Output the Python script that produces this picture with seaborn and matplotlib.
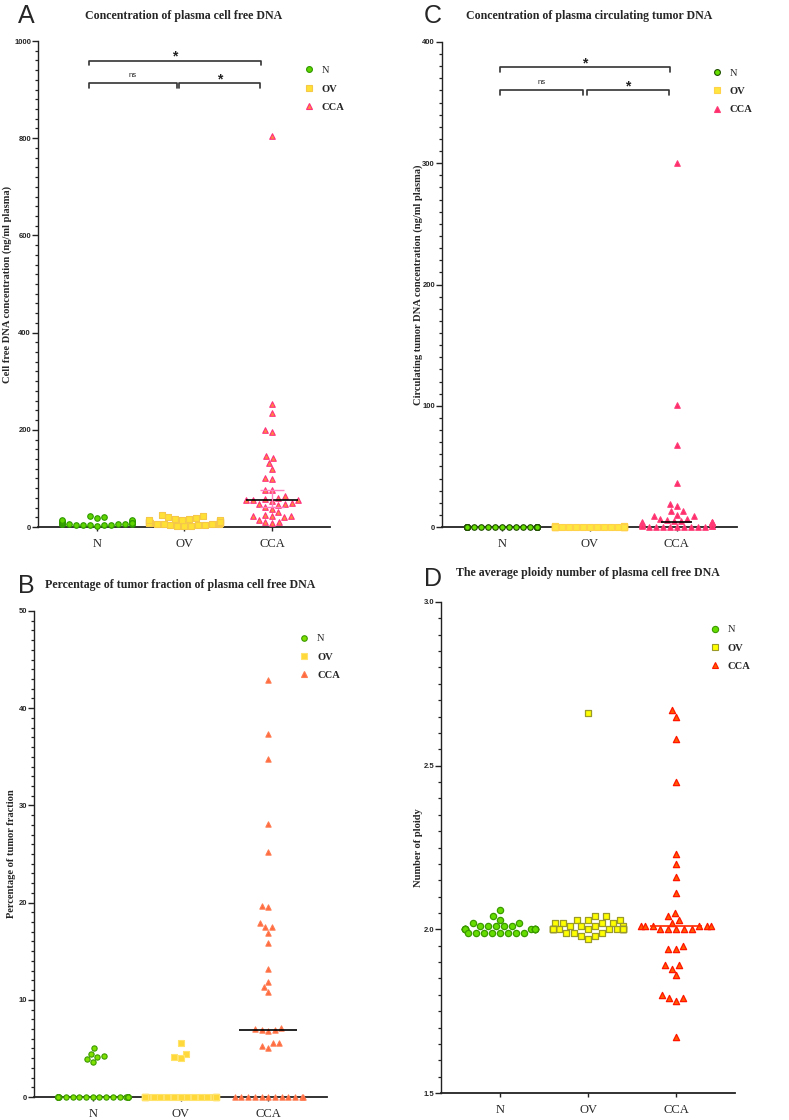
import numpy as np
import matplotlib.pyplot as plt
import seaborn as sns
from matplotlib.lines import Line2D
from matplotlib.ticker import MultipleLocator

groups = ['N', 'OV', 'CCA']

# A - cell free DNA concentration (ng/ml plasma)
cfdna_n = [3, 4, 5, 5, 6, 6, 7, 7, 7, 8, 8, 8, 9, 9, 9, 10, 10, 11, 11, 12,
           13, 14, 15, 18, 20, 22, 6, 5, 8, 9, 4]
cfdna_ov = [2, 3, 4, 5, 6, 7, 8, 8, 9, 9, 10, 10, 11, 11, 12, 12, 13, 14, 15, 16,
            17, 18, 20, 22, 25, 6, 7, 9, 10, 3, 5, 14]
cfdna_cca = [805, 253, 235, 199, 195, 147, 143, 132, 120, 101, 99, 77, 77, 63, 60,
             57, 55, 55, 55, 53, 50, 48, 48, 45, 42, 38, 30, 25, 22, 22, 22, 20, 14,
             10, 10, 8]
cfdna_ticks = [0, 200, 400, 600, 800, 1000]

# C - circulating tumor DNA concentration (ng/ml plasma)
ctdna_n = [0, 0, 0, 0.1, 0, 0.2, 0, 0, 0.1, 0, 0.3, 0, 0, 0.2, 0, 0, 0.1, 0, 0, 0.4,
           0, 0, 0.1, 0, 0.2, 0, 0]
ctdna_ov = [0, 0.2, 0, 0.4, 0, 0.1, 0.6, 0, 0.3, 0, 1.0, 0.2, 0, 0.5, 0, 0.1, 0, 0.8,
            0, 0.3, 0, 0.2, 0, 0.4, 0, 0.1, 0]
ctdna_cca = [300, 101, 68, 36, 19, 17, 13, 13, 10, 9, 9, 7, 7, 6, 5, 5, 4, 4, 4, 3,
             3, 3, 2, 2, 1, 1, 0.5, 0, 0, 0, 0, 0, 0, 0, 0, 0]
ctdna_ticks = [0, 100, 200, 300, 400]

# B - percentage of tumor fraction
tf_n = [5.0, 4.4, 4.2, 4.1, 3.9, 3.6] + [0] * 24
tf_ov = [5.6, 4.4, 4.1, 4.0] + [0] * 26
tf_cca = [42.9, 37.3, 34.8, 28.1, 25.2, 19.6, 19.5, 17.9, 17.5, 17.5, 16.9, 15.8,
          13.2, 11.8, 11.3, 10.8, 7.1, 7.0, 6.85, 6.85, 6.8, 5.6, 5.55, 5.2, 5.07] + [0] * 12
tf_ticks = [0, 10, 20, 30, 40, 50]

# D - average ploidy number
ploidy_n = [2.06, 2.04, 2.03, 2.02, 2.02, 2.01, 2.01, 2.01, 2.01, 2.01] + [2.00] * 12 + [1.99] * 8
ploidy_ov = ([2.66, 2.04, 2.04, 2.03, 2.03, 2.03, 2.02, 2.02, 2.02, 2.02, 2.01, 2.01, 2.01, 2.01]
             + [2.00] * 14 + [1.99, 1.99, 1.99, 1.98, 1.98, 1.97])
ploidy_cca = ([2.67, 2.65, 2.58, 2.45, 2.23, 2.20, 2.16, 2.11, 2.05, 2.04, 2.03, 2.02]
              + [2.01] * 6 + [2.00] * 5
              + [1.95, 1.94, 1.94, 1.89, 1.89, 1.88, 1.86, 1.80, 1.79, 1.79, 1.78, 1.67])
ploidy_ticks = [1.5, 2.0, 2.5, 3.0]

sns.set_style('ticks')
plt.rcParams['font.family'] = ['Liberation Serif', 'DejaVu Serif']
SANS = ['Liberation Sans', 'DejaVu Sans']
AXC = '#222222'

W, H = 789, 1120
fig = plt.figure(figsize=(W / 100, H / 100), dpi=100)


def make_axes(l, t, r, b):
    return fig.add_axes([l / W, 1 - b / H, (r - l) / W, (b - t) / H])


def draw_panel(ax, values, styles, size, lw, xlim, ylim, ticks, minor, fmt):
    for g, vals in zip(groups, values):
        m, fc, ec = styles[g]
        sns.swarmplot(x=[g] * len(vals), y=vals, order=groups, marker=m, color=fc,
                      edgecolor=ec, linewidth=lw, size=size, ax=ax, warn_thresh=1,
                      zorder=3)
    for c in ax.collections:
        c.set_clip_on(False)
    ax.set_xlim(*xlim)
    ax.set_ylim(*ylim)
    ax.set_xticks(range(len(groups)))
    ax.set_xticklabels(groups, fontsize=9)
    ax.set_yticks(ticks)
    ax.set_yticklabels([fmt.format(t) for t in ticks], fontsize=5.5,
                       family=SANS, fontweight='bold')
    ax.yaxis.set_minor_locator(MultipleLocator(minor))
    ax.tick_params(axis='y', which='major', length=4, width=1, pad=1, color=AXC)
    ax.tick_params(axis='y', which='minor', length=2.5, width=0.9, color=AXC)
    ax.tick_params(axis='x', length=3, width=1, pad=5, color=AXC)
    ax.set_xlabel('')
    sns.despine(ax=ax)
    ax.spines['left'].set_linewidth(1.0)
    ax.spines['bottom'].set_linewidth(1.3)
    ax.spines['left'].set_color(AXC)
    ax.spines['bottom'].set_color(AXC)


def set_texts(ax, title, title_y, ylabel, ylabel_x):
    ax.text(0.5, title_y, title, transform=ax.transAxes, ha='center', va='center',
            fontsize=8.6, fontweight='bold')
    ax.set_ylabel(ylabel, fontsize=7.6, fontweight='bold', va='center')
    ax.yaxis.set_label_coords(ylabel_x, 0.5)


def add_legend(ax, styles, ms, anchor):
    handles = [Line2D([], [], ls='none', marker=styles[g][0], markerfacecolor=styles[g][1],
                      markeredgecolor=styles[g][2], markersize=ms, markeredgewidth=0.8)
               for g in groups]
    leg = ax.legend(handles, groups, loc='upper left', bbox_to_anchor=anchor, frameon=False,
                    fontsize=7.6, handlelength=1.0, handletextpad=0.7, labelspacing=0.85,
                    borderpad=0, borderaxespad=0)
    for t, w in zip(leg.get_texts(), ['normal', 'bold', 'bold']):
        t.set_fontweight(w)


def median_line(ax, i, vals, half, color, lw=1.2):
    ax.hlines(np.median(vals), i - half, i + half, color=color, lw=lw, zorder=4)


def bracket(ax, x0, x1, y, drop, label, size, weight, dy):
    ax.plot([x0, x0, x1, x1], [y - drop, y, y, y - drop], color='#333333', lw=1.2,
            clip_on=False, zorder=2)
    ax.text((x0 + x1) / 2, y + dy, label, ha='center', va='baseline', fontsize=size,
            fontweight=weight, family=SANS, color='#222222')


# ---- A ----
axA = make_axes(38, 41, 330, 527)
stA = {'N': ('o', '#5fd400', '#2e9900'), 'OV': ('s', '#ffe135', '#f5c84a'),
       'CCA': ('^', '#ff8a3d', '#ff2e7e')}
draw_panel(axA, [cfdna_n, cfdna_ov, cfdna_cca], stA, 4.0, 0.8, (-0.67, 2.66), (0, 1000),
           cfdna_ticks, 20, '{:d}')
set_texts(axA, 'Concentration of plasma cell free DNA', 1.051,
          'Cell free DNA concentration (ng/ml plasma)', -0.106)
add_legend(axA, stA, 4.2, (0.911, 0.949))
srt = np.sort(cfdna_cca)
n = len(srt)
lo = srt[int(np.floor(n / 2 - 1.96 * np.sqrt(n) / 2)) - 1]
hi = srt[int(np.ceil(1 + n / 2 + 1.96 * np.sqrt(n) / 2)) - 1]
median_line(axA, 2, cfdna_cca, 0.3, 'black')
axA.hlines([lo, hi], 2 - 0.14, 2 + 0.14, color='#ff7fbf', lw=1.0, zorder=4)
axA.vlines(2, lo, hi, color='#ff7fbf', lw=1.0, zorder=4)
bracket(axA, -0.09, 1.87, 959, 9, '*', 10, 'bold', 0)
bracket(axA, -0.09, 0.91, 913, 9, 'ns', 5.5, 'normal', 12)
bracket(axA, 0.94, 1.86, 913, 9, '*', 10, 'bold', 0)

# ---- C ----
axC = make_axes(442, 42, 737, 527)
stC = {'N': ('o', '#66e000', '#1f4d00'), 'OV': ('s', '#ffe640', '#ffd24a'),
       'CCA': ('^', '#ff2d6a', '#ff3c78')}
draw_panel(axC, [ctdna_n, ctdna_ov, ctdna_cca], stC, 4.0, 0.8, (-0.69, 2.69), (0, 400),
           ctdna_ticks, 10, '{:d}')
set_texts(axC, 'Concentration of plasma circulating tumor DNA', 1.054,
          'Circulating tumor DNA concentration (ng/ml plasma)', -0.081)
add_legend(axC, stC, 4.2, (0.915, 0.946))
median_line(axC, 2, ctdna_cca, 0.18, 'black')
bracket(axC, -0.03, 1.92, 379, 3.5, '*', 10, 'bold', 0)
bracket(axC, -0.03, 0.93, 360, 3.5, 'ns', 5.5, 'normal', 5)
bracket(axC, 0.97, 1.91, 360, 3.5, '*', 10, 'bold', 0)

# ---- B ----
axB = make_axes(34, 611, 327, 1097)
stB = {'N': ('o', '#7ee000', '#3b9900'), 'OV': ('s', '#ffd83a', '#ffe36b'),
       'CCA': ('^', '#ff6a3d', '#ff7b52')}
draw_panel(axB, [tf_n, tf_ov, tf_cca], stB, 3.8, 0.8, (-0.67, 2.67), (0, 50),
           tf_ticks, 1, '{:d}')
set_texts(axB, 'Percentage of tumor fraction of plasma cell free DNA', 1.054,
          'Percentage of tumor fraction', -0.078)
add_legend(axB, stB, 4.0, (0.905, 0.953))
median_line(axB, 2, tf_cca, 0.33, 'black')

# ---- D ----
axD = make_axes(441, 602, 735, 1093)
stD = {'N': ('o', '#66dd00', '#3a9a00'), 'OV': ('s', '#ffff00', '#9a9a2a'),
       'CCA': ('^', '#ff5a00', '#ff1500')}
draw_panel(axD, [ploidy_n, ploidy_ov, ploidy_cca], stD, 4.5, 0.9, (-0.67, 2.67), (1.5, 3.0),
           ploidy_ticks, 0.05, '{:.1f}')
set_texts(axD, 'The average ploidy number of plasma cell free DNA', 1.059,
          'Number of ploidy', -0.078)
add_legend(axD, stD, 4.5, (0.915, 0.953))
median_line(axD, 2, ploidy_cca, 0.3, '#ff2a00')

# panel letters
for letter, x, y in [('A', 26, 16), ('C', 433, 16), ('B', 26, 586), ('D', 433, 579)]:
    fig.text(x / W, 1 - y / H, letter, ha='center', va='center', fontsize=18, family=SANS)

fig.savefig('out.png', dpi=100)
